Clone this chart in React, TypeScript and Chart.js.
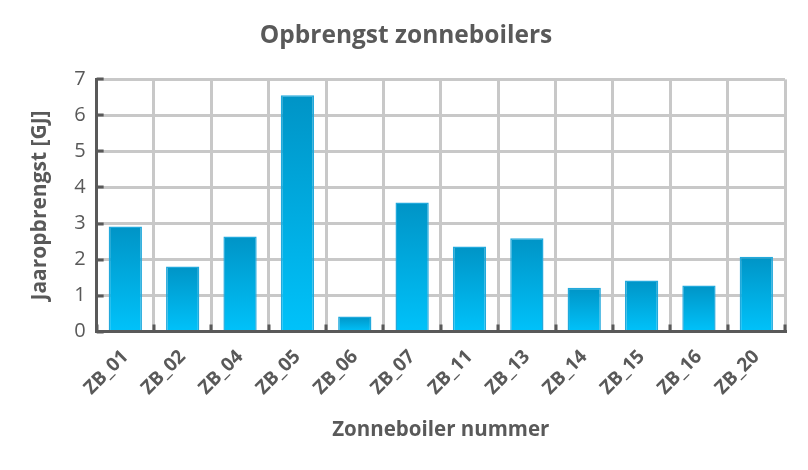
import React, { useEffect, useRef } from "react";
import { Chart, registerables } from "chart.js";

Chart.register(...registerables);

const categories = ["ZB_01", "ZB_02", "ZB_04", "ZB_05", "ZB_06", "ZB_07", "ZB_11", "ZB_13", "ZB_14", "ZB_15", "ZB_16", "ZB_20"];
const yieldGJ = [2.92, 1.81, 2.64, 6.56, 0.42, 3.58, 2.36, 2.59, 1.22, 1.42, 1.28, 2.08];
const yTicks = [0, 1, 2, 3, 4, 5, 6, 7];

const GRAY = "#595959";
const FONT = "'Open Sans', 'Noto Sans', sans-serif";

const innerTicks = {
  id: "innerTicks",
  afterDatasetsDraw(chart: any) {
    const { ctx, scales, chartArea } = chart;
    const x = scales.x;
    const y = scales.y;
    ctx.save();
    ctx.strokeStyle = GRAY;
    ctx.lineWidth = 3;
    ctx.beginPath();
    yTicks.forEach((v) => {
      const py = Math.round(y.getPixelForValue(v));
      ctx.moveTo(chartArea.left, py);
      ctx.lineTo(chartArea.left + 7, py);
    });
    for (let i = 0; i <= categories.length; i++) {
      const px = Math.round(x.getPixelForValue(i - 0.5));
      ctx.moveTo(px, chartArea.bottom);
      ctx.lineTo(px, chartArea.bottom - 7);
    }
    ctx.stroke();
    ctx.restore();
  },
};

export default function App() {
  const ref = useRef<HTMLCanvasElement>(null);
  useEffect(() => {
    document.body.style.margin = "0";
    const chart = new Chart(ref.current!, {
      type: "bar",
      data: {
        labels: categories,
        datasets: [
          {
            data: yieldGJ,
            backgroundColor: (c: any) => {
              const ch = c.chart;
              const ys = ch.scales?.y;
              if (!ys || c.parsed == null) return "#00aee6";
              const top = ys.getPixelForValue(c.parsed.y);
              const bot = ys.getPixelForValue(0);
              if (!isFinite(top) || !isFinite(bot) || top === bot) return "#00aee6";
              const g = ch.ctx.createLinearGradient(0, top, 0, bot);
              g.addColorStop(0, "#0094c6");
              g.addColorStop(1, "#00c2fa");
              return g;
            },
            borderColor: "#22a9dc",
            borderWidth: 1.5,
            barPercentage: 0.58,
            categoryPercentage: 1,
          },
        ],
      },
      options: {
        animation: false,
        responsive: true,
        maintainAspectRatio: false,
        layout: { padding: { left: 27, right: 23, top: 0, bottom: 28 } },
        plugins: {
          legend: { display: false },
          tooltip: { enabled: false },
          title: {
            display: true,
            text: "Opbrengst zonneboilers",
            color: GRAY,
            font: { family: FONT, size: 24.5, weight: "bold" },
            padding: { top: 21, bottom: 29 },
          },
        },
        scales: {
          x: {
            grid: { color: "#c8c8c8", lineWidth: 3, offset: true, drawTicks: false },
            border: { color: GRAY, width: 3 },
            ticks: {
              color: GRAY,
              font: { family: FONT, size: 19, weight: "bold" },
              minRotation: 45,
              maxRotation: 45,
              padding: 14,
            },
            title: {
              display: true,
              text: "Zonneboiler nummer",
              color: GRAY,
              font: { family: FONT, size: 20.5, weight: "bold" },
              padding: { top: 4, bottom: 0 },
            },
          },
          y: {
            min: 0,
            max: 7,
            grid: { color: "#c8c8c8", lineWidth: 3, drawTicks: false },
            border: { color: GRAY, width: 3 },
            ticks: {
              stepSize: 1,
              color: GRAY,
              font: { family: FONT, size: 20 },
              padding: 11,
            },
            title: {
              display: true,
              text: "Jaaropbrengst [GJ]",
              color: GRAY,
              font: { family: FONT, size: 21, weight: "bold" },
              padding: { top: 0, bottom: 11 },
            },
          },
        },
      },
      plugins: [innerTicks],
    });
    return () => chart.destroy();
  }, []);
  return (
    <div style={{ position: "relative", width: 808, height: 470 }}>
      <canvas ref={ref} />
    </div>
  );
}
